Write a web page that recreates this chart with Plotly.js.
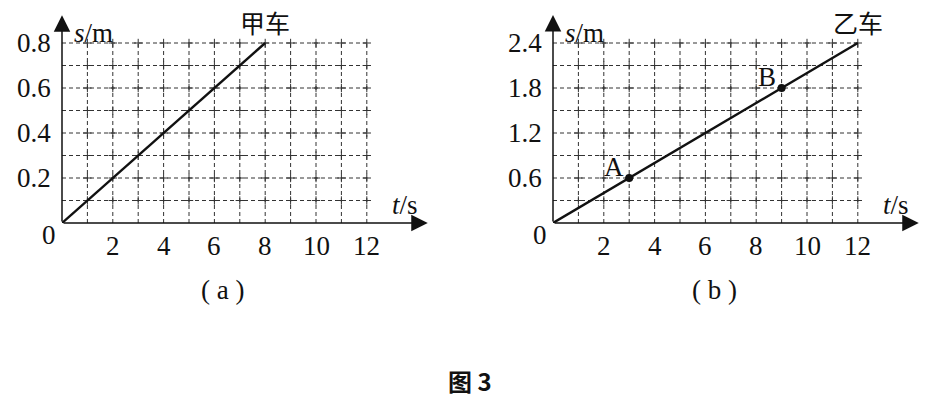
<!DOCTYPE html>
<html>
<head>
<meta charset="utf-8">
<script src="https://cdn.plot.ly/plotly-3.0.1.min.js"></script>
<style>html,body{margin:0;padding:0;background:#fff;}#fig{width:930px;height:399px;}</style>
</head>
<body>
<div id="fig"></div>
<script>
// s–t graphs of two cars
const tTicks = [2, 4, 6, 8, 10, 12];
const tGrid = [1, 2, 3, 4, 5, 6, 7, 8, 9, 10, 11, 12];

// car 甲 (panel a)
const sTicksA = [0.2, 0.4, 0.6, 0.8];
const sGridA = [0.1, 0.2, 0.3, 0.4, 0.5, 0.6, 0.7, 0.8];
const tA = [0, 8];
const sA = [0, 0.8];

// car 乙 (panel b)
const sTicksB = [0.6, 1.2, 1.8, 2.4];
const sGridB = [0.3, 0.6, 0.9, 1.2, 1.5, 1.8, 2.1, 2.4];
const tB = [0, 12];
const sB = [0, 2.4];
const ptLabels = ['A', 'B'];
const ptT = [3, 9];
const ptS = [0.6, 1.8];

const W = 930, H = 399;
const SERIF = "'Liberation Serif', 'Times New Roman', serif";
const CJK = "'Noto Sans CJK SC', sans-serif";
const INK = '#111';
const GRID = '#333';
const NUM = 27;

// pixel frame of each panel (origin and scale)
const panels = [
  {xa: 'x', ya: 'y', ox: 62, oy: 223, pxT: 25.4, pxS: 225, tMax: 14.6, sTop: 0.933,
   sTicks: sTicksA, sGrid: sGridA, tLine: tA, sLine: sA, carName: '甲车', carT: 8, tag: '( a )', tagX: 222},
  {xa: 'x2', ya: 'y2', ox: 553, oy: 223, pxT: 25.4, pxS: 75, tMax: 14.6, sTop: 2.8,
   sTicks: sTicksB, sGrid: sGridB, tLine: tB, sLine: sB, carName: '乙车', carT: 12, tag: '( b )', tagX: 714}
];

const data = [];
const shapes = [];
const annotations = [];
const layout = {
  width: W, height: H,
  margin: {l: 0, r: 0, t: 0, b: 0},
  paper_bgcolor: '#fff', plot_bgcolor: 'rgba(0,0,0,0)',
  showlegend: false,
  font: {family: SERIF, color: INK},
  shapes: shapes, annotations: annotations
};

panels.forEach(p => {
  const xKey = p.xa === 'x' ? 'xaxis' : 'xaxis2';
  const yKey = p.ya === 'y' ? 'yaxis' : 'yaxis2';
  const axCommon = {showgrid: false, zeroline: false, showline: false, showticklabels: false, ticks: '', fixedrange: true};
  layout[xKey] = Object.assign({}, axCommon, {
    range: [0, p.tMax],
    domain: [p.ox / W, (p.ox + p.tMax * p.pxT) / W],
    anchor: p.ya
  });
  layout[yKey] = Object.assign({}, axCommon, {
    range: [0, p.sTop],
    domain: [1 - p.oy / H, 1 - (p.oy - p.sTop * p.pxS) / H],
    anchor: p.xa
  });

  const tEnd = tGrid[tGrid.length - 1];
  const sEnd = p.sGrid[p.sGrid.length - 1];

  // dashed grid
  tGrid.forEach(t => shapes.push({type: 'line', xref: p.xa, yref: p.ya, x0: t, x1: t, y0: 0, y1: sEnd,
    line: {color: GRID, width: 1, dash: '4px,3px'}, layer: 'below'}));
  p.sGrid.forEach(s => shapes.push({type: 'line', xref: p.xa, yref: p.ya, x0: 0, x1: tEnd, y0: s, y1: s,
    line: {color: GRID, width: 1, dash: '4px,3px'}, layer: 'below'}));

  // small crosses at grid intersections
  const cx = [], cy = [];
  tGrid.forEach(t => p.sGrid.forEach(s => { cx.push(t); cy.push(s); }));
  data.push({type: 'scatter', mode: 'markers', x: cx, y: cy, xaxis: p.xa, yaxis: p.ya, hoverinfo: 'skip',
    marker: {symbol: 'cross-thin-open', size: 6, color: GRID, line: {color: GRID, width: 1}}});

  // s-t line
  data.push({type: 'scatter', mode: 'lines', x: p.tLine, y: p.sLine, xaxis: p.xa, yaxis: p.ya,
    line: {color: INK, width: 2.4}, cliponaxis: false, hoverinfo: 'skip'});

  // axes with arrows
  annotations.push({xref: p.xa, yref: p.ya, axref: p.xa, ayref: p.ya, x: p.tMax - 0.2, y: 0, ax: 0, ay: 0,
    text: '', showarrow: true, arrowhead: 2, arrowsize: 2.2, arrowwidth: 1.5, arrowcolor: INK, standoff: 0});
  annotations.push({xref: p.xa, yref: p.ya, axref: p.xa, ayref: p.ya, x: 0, y: p.sTop * 0.99, ax: 0, ay: 0,
    text: '', showarrow: true, arrowhead: 2, arrowsize: 2.2, arrowwidth: 1.5, arrowcolor: INK, standoff: 0});

  // tick labels
  tTicks.forEach(t => annotations.push({xref: p.xa, yref: p.ya, x: t, y: 0, yshift: -23,
    text: String(t), showarrow: false, xanchor: 'center', yanchor: 'middle', font: {family: SERIF, size: NUM, color: INK}}));
  p.sTicks.forEach(s => annotations.push({xref: p.xa, yref: p.ya, x: 0, y: s, xshift: -9,
    text: s.toFixed(1), showarrow: false, xanchor: 'right', yanchor: 'middle', font: {family: SERIF, size: NUM, color: INK}}));
  annotations.push({xref: p.xa, yref: p.ya, x: 0, y: 0, xshift: -13, yshift: -12,
    text: '0', showarrow: false, xanchor: 'center', yanchor: 'middle', font: {family: SERIF, size: NUM, color: INK}});

  // axis titles
  annotations.push({xref: p.xa, yref: p.ya, x: 0, y: p.sTop, xshift: 10, yshift: -3,
    text: '<i>s</i>/m', showarrow: false, xanchor: 'left', yanchor: 'top', font: {family: SERIF, size: NUM, color: INK}});
  annotations.push({xref: p.xa, yref: p.ya, x: p.tMax, y: 0, xshift: -13, yshift: 18,
    text: '<i>t</i>/s', showarrow: false, xanchor: 'right', yanchor: 'middle', font: {family: SERIF, size: NUM, color: INK}});

  // car name at the end of the line
  annotations.push({xref: p.xa, yref: p.ya, x: p.carT, y: p.sLine[p.sLine.length - 1], yshift: 21,
    text: p.carName, showarrow: false, xanchor: 'center', yanchor: 'middle', font: {family: CJK, size: 25, color: INK}});

  // panel tag
  annotations.push({xref: 'paper', yref: p.ya, x: p.tagX / W, y: 0, yshift: -67,
    text: p.tag, showarrow: false, xanchor: 'center', yanchor: 'middle', font: {family: SERIF, size: NUM, color: INK}});
});

// marked points A and B on car 乙's line
data.push({type: 'scatter', mode: 'markers', x: ptT, y: ptS, xaxis: 'x2', yaxis: 'y2', hoverinfo: 'skip',
  marker: {color: INK, size: 8}});
ptLabels.forEach((lab, i) => annotations.push({xref: 'x2', yref: 'y2', x: ptT[i], y: ptS[i], xshift: -15, yshift: 11,
  text: lab, showarrow: false, xanchor: 'center', yanchor: 'middle', font: {family: SERIF, size: NUM, color: INK}}));

// figure caption
annotations.push({xref: 'paper', yref: 'paper', x: 470 / W, y: 1 - 380 / H,
  text: '<b>图 3</b>', showarrow: false, xanchor: 'center', yanchor: 'middle', font: {family: CJK, size: 24, color: INK}});

Plotly.newPlot('fig', data, layout, {staticPlot: true, displayModeBar: false});
</script>
</body>
</html>
